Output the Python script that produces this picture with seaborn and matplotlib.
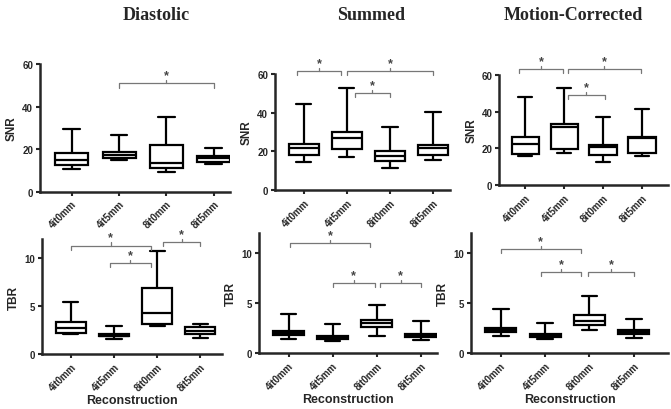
import numpy as np
import pandas as pd
import matplotlib
matplotlib.use("Agg")
import matplotlib.pyplot as plt
import seaborn as sns

recons = ['4it0mm', '4it5mm', '8it0mm', '8it5mm']
titles = ['Diastolic', 'Summed', 'Motion-Corrected']

# five-number summaries per reconstruction: min, q1, median, q3, max
dia_snr = [[10.5, 12.5, 15.0, 18.3, 29.3], [14.9, 16.0, 17.5, 18.6, 26.5],
           [9.2, 11.0, 13.6, 22.0, 35.0], [12.9, 14.1, 15.7, 16.9, 20.4]]
sum_snr = [[14.7, 17.9, 22.0, 23.6, 44.5], [16.9, 21.0, 26.7, 30.0, 53.0],
           [11.6, 15.2, 17.8, 20.3, 32.6], [15.3, 17.9, 21.6, 23.1, 40.5]]
mot_snr = [[15.8, 17.1, 22.5, 26.2, 47.8], [17.6, 19.8, 31.6, 33.5, 53.0],
           [12.7, 16.4, 20.9, 22.0, 36.9], [16.0, 17.3, 25.8, 26.4, 41.5]]
dia_tbr = [[2.07, 2.24, 2.76, 3.3, 5.4], [1.55, 1.83, 1.93, 2.1, 2.9],
           [2.97, 3.1, 4.3, 6.86, 10.7], [1.69, 2.07, 2.38, 2.86, 3.17]]
sum_tbr = [[1.4, 1.8, 2.04, 2.2, 3.88], [1.17, 1.44, 1.64, 1.74, 2.94],
           [1.7, 2.6, 3.0, 3.28, 4.78], [1.27, 1.6, 1.8, 1.9, 3.21]]
mot_tbr = [[1.66, 2.13, 2.33, 2.49, 4.42], [1.43, 1.63, 1.8, 1.9, 2.96],
           [2.33, 2.8, 3.16, 3.85, 5.75], [1.53, 1.9, 2.1, 2.26, 3.36]]

# significance brackets: (from category, to category, height)
dia_snr_sig = [(1, 3, 51)]
sum_snr_sig = [(-0.15, 0.85, 61.5), (1.0, 3.0, 61.5), (1.18, 2.0, 50)]
mot_snr_sig = [(-0.17, 0.98, 63), (1.09, 2.98, 63), (1.09, 2.04, 49)]
dia_tbr_sig = [(0, 1.85, 11.3), (0.9, 1.85, 9.45), (2.13, 3.0, 11.7)]
sum_tbr_sig = [(0.03, 1.85, 11.0), (1.0, 1.96, 7.0), (2.08, 3.0, 7.0)]
mot_tbr_sig = [(0, 1.8, 10.4), (0.9, 1.82, 8.1), (1.97, 3.0, 8.1)]

panels = [
    (dia_snr, dia_snr_sig, 'SNR'), (sum_snr, sum_snr_sig, 'SNR'), (mot_snr, mot_snr_sig, 'SNR'),
    (dia_tbr, dia_tbr_sig, 'TBR'), (sum_tbr, sum_tbr_sig, 'TBR'), (mot_tbr, mot_tbr_sig, 'TBR'),
]

# axes boxes in figure fraction and x limits
boxes = [
    [0.0596, 0.530, 0.283, 0.311], [0.410, 0.534, 0.261, 0.283], [0.744, 0.546, 0.2515, 0.269],
    [0.0626, 0.134, 0.268, 0.281], [0.386, 0.1366, 0.265, 0.292], [0.702, 0.1366, 0.2935, 0.292],
]
xright = [3.34, 3.4, 3.67, 3.5, 3.36, 3.77]

sns.set_style('ticks')
plt.rcParams['font.family'] = ['Liberation Sans', 'DejaVu Sans']
plt.rcParams['font.weight'] = 'bold'

fig = plt.figure(figsize=(6.71, 4.10), dpi=100)


def bracket(ax, x1, x2, y, ymax):
    h = 0.035 * ymax
    ax.plot([x1, x1, x2, x2], [y - h, y, y, y - h], color='#777777', lw=0.9, clip_on=False)
    xm = (x1 + x2) / 2
    ax.plot([xm, xm], [y, y + h * 0.8], color='#777777', lw=0.9, clip_on=False)
    ax.text(xm, y + h * 0.5, '*', ha='center', va='bottom', fontsize=9, color='#444444')


for i, (summ, sigs, ylab) in enumerate(panels):
    ax = fig.add_axes(boxes[i])
    rows = []
    for rec, vals in zip(recons, summ):
        for v in vals:
            rows.append({'recon': rec, 'value': v})
    df = pd.DataFrame(rows)
    sns.boxplot(data=df, x='recon', y='value', order=recons, color='white',
                linecolor='black', linewidth=1.6, width=0.7, whis=(0, 100),
                saturation=1, ax=ax)
    ymax = 60 if ylab == 'SNR' else 12
    ax.set_ylim(0, ymax)
    ax.set_xlim(-0.67, xright[i])
    if ylab == 'SNR':
        ax.set_yticks([0, 20, 40, 60])
    else:
        ax.set_yticks([0, 5, 10])
    for s in sigs:
        bracket(ax, s[0], s[1], s[2], ymax)
    sns.despine(ax=ax)
    for sp in ['left', 'bottom']:
        ax.spines[sp].set_linewidth(1.8)
    ax.tick_params(width=1.5, length=3, labelsize=7, direction='out', pad=2)
    ax.set_xticks(range(4))
    ax.set_xticklabels(recons, rotation=45, ha='right', rotation_mode='anchor', fontweight='bold')
    for lab in ax.get_yticklabels():
        lab.set_fontweight('bold')
    ax.set_ylabel(ylab, fontsize=8.5, fontweight='bold', labelpad=3)
    if i >= 3:
        ax.set_xlabel('Reconstruction', fontsize=9, fontweight='bold', labelpad=1)
    else:
        ax.set_xlabel('')

title_x = [156, 371, 573]
for tx, t in zip(title_x, titles):
    fig.text(tx / 671, 1 - 16 / 410, t, ha='center', va='center', fontsize=13,
             fontweight='bold', family=['Liberation Serif', 'DejaVu Serif'])

fig.savefig('out.png', dpi=100)
